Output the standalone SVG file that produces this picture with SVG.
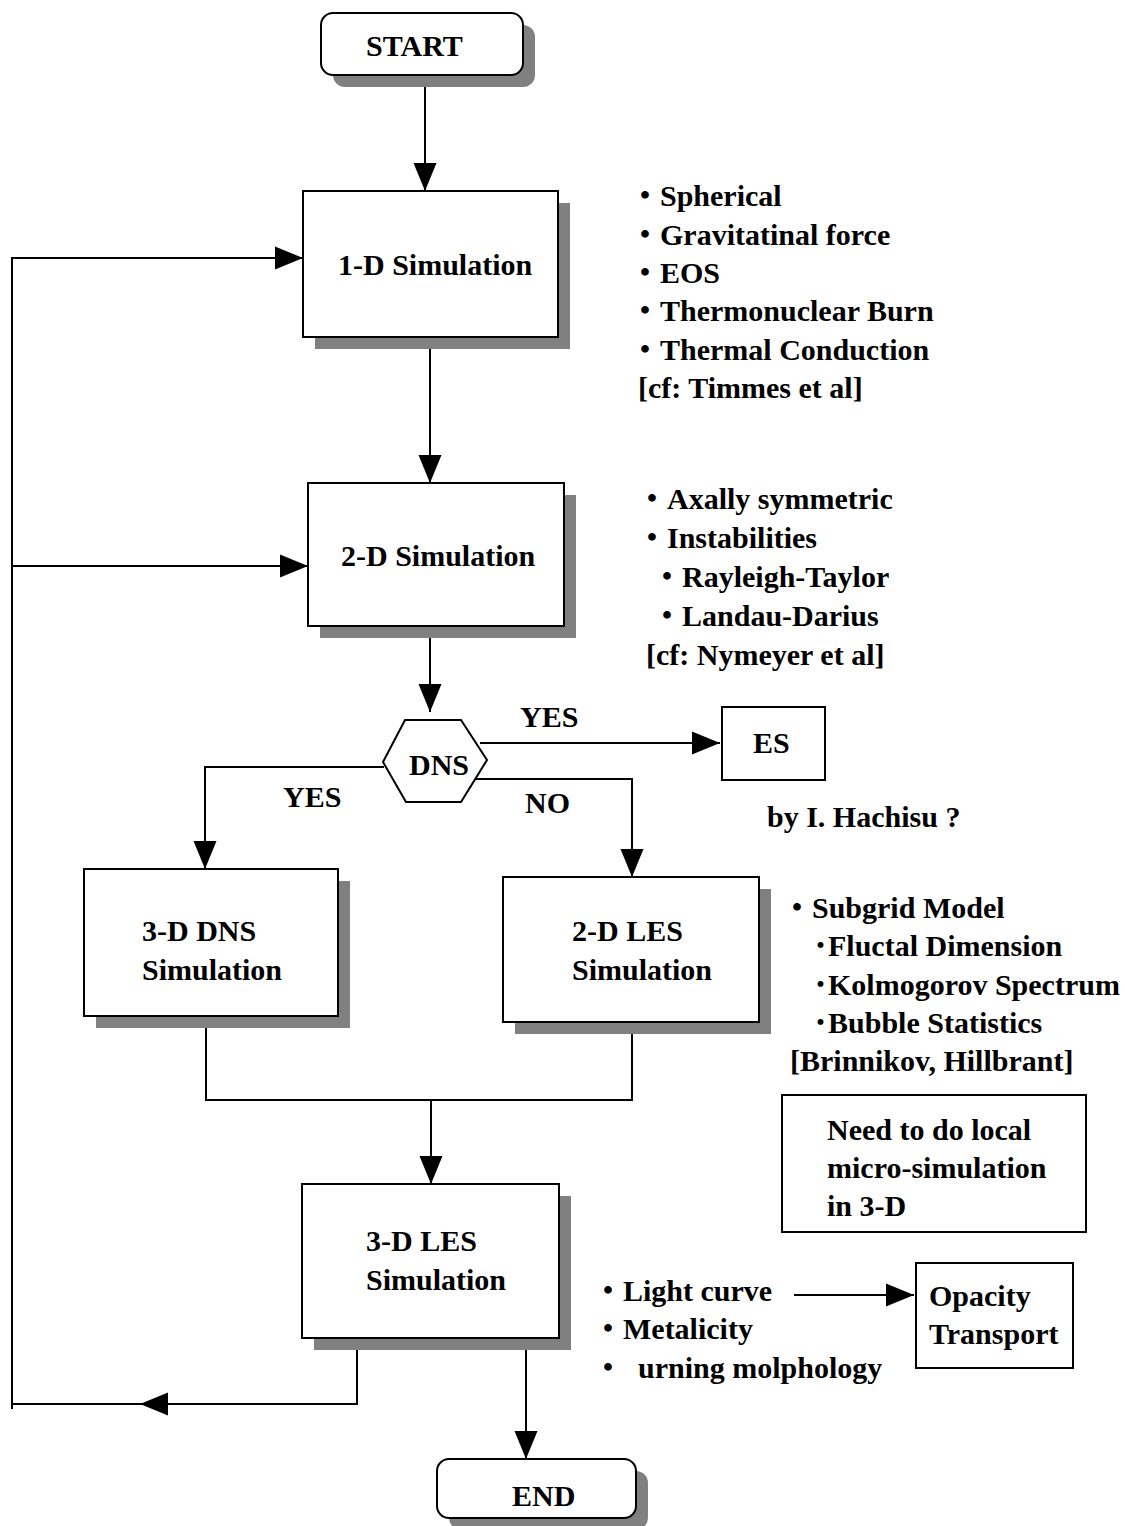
<svg xmlns="http://www.w3.org/2000/svg" width="1125" height="1526" viewBox="0 0 1125 1526">
<defs>
<style>
text{font-family:"Liberation Serif","Noto Sans CJK JP",serif;font-weight:bold;font-size:30px;fill:#000}
.box{fill:#fff;stroke:#000;stroke-width:2}
.sh{fill:#808080}
.ln{fill:none;stroke:#000;stroke-width:2}
</style>
<marker id="ah" markerUnits="userSpaceOnUse" markerWidth="28" markerHeight="24" refX="28" refY="11.5" orient="auto" viewBox="0 0 28 23">
<path d="M0,0 L28,11.5 L0,23 z" fill="#000"/>
</marker>
</defs>
<rect width="1125" height="1526" fill="#fff"/>

<g id="connectors">
<path class="ln" d="M425,87 V191" marker-end="url(#ah)"/>
<path class="ln" d="M357,1350 V1404 H140" marker-end="url(#ah)"/>
<path class="ln" d="M140,1404 H12 V1409 M12,1404 V258 H303" marker-end="url(#ah)"/>
<path class="ln" d="M12,566 H308" marker-end="url(#ah)"/>
<path class="ln" d="M430,349 V483" marker-end="url(#ah)"/>
<path class="ln" d="M430,638 V712" marker-end="url(#ah)"/>
<path class="ln" d="M480,743 H720" marker-end="url(#ah)"/>
<path class="ln" d="M384,767 H205 V869" marker-end="url(#ah)"/>
<path class="ln" d="M475,779 H632 V877" marker-end="url(#ah)"/>
<path class="ln" d="M206,1028 V1100 H632 V1022"/>
<path class="ln" d="M431,1100 V1184" marker-end="url(#ah)"/>
<path class="ln" d="M526,1350 V1459" marker-end="url(#ah)"/>
<path class="ln" d="M794,1295 H914" marker-end="url(#ah)"/>
</g>

<g id="start">
<rect class="sh" x="333" y="25" width="202" height="62" rx="12"/>
<rect class="box" x="321" y="13" width="202" height="62" rx="12"/>
<text x="366" y="56">START</text>
</g>

<g id="sim1d">
<rect class="sh" x="315" y="203" width="255" height="146"/>
<rect class="box" x="303" y="191" width="255" height="146"/>
<text x="338" y="275">1-D Simulation</text>
</g>

<g id="sim2d">
<rect class="sh" x="320" y="495" width="256" height="143"/>
<rect class="box" x="308" y="483" width="256" height="143"/>
<text x="341" y="566">2-D Simulation</text>
</g>

<g id="dns">
<polygon class="box" points="383,762 405,720 461,720 487,760 461,802 406,802"/>
<text x="409" y="775">DNS</text>
</g>

<g id="es">
<rect class="box" x="722" y="707" width="103" height="73"/>
<text x="753" y="753">ES</text>
</g>

<g id="dns3d">
<rect class="sh" x="96" y="881" width="254" height="147"/>
<rect class="box" x="84" y="869" width="254" height="147"/>
<text x="142" y="941">3-D DNS</text>
<text x="142" y="980">Simulation</text>
</g>

<g id="les2d">
<rect class="sh" x="515" y="889" width="256" height="145"/>
<rect class="box" x="503" y="877" width="256" height="145"/>
<text x="572" y="941">2-D LES</text>
<text x="572" y="980">Simulation</text>
</g>

<g id="les3d">
<rect class="sh" x="314" y="1196" width="257" height="154"/>
<rect class="box" x="302" y="1184" width="257" height="154"/>
<text x="366" y="1251">3-D LES</text>
<text x="366" y="1290">Simulation</text>
</g>

<g id="end">
<rect class="sh" x="449" y="1471" width="199" height="59" rx="12"/>
<rect class="box" x="437" y="1459" width="199" height="59" rx="12"/>
<text x="512" y="1506">END</text>
</g>

<g id="need">
<rect class="box" x="782" y="1095" width="304" height="137"/>
<text x="827" y="1140">Need to do local</text>
<text x="827" y="1178">micro-simulation</text>
<text x="827" y="1216">in 3-D</text>
</g>

<g id="opacity">
<rect class="box" x="916" y="1263" width="157" height="105"/>
<text x="929" y="1306">Opacity</text>
<text x="929" y="1344">Transport</text>
</g>

<g id="labels">
<text x="520" y="727">YES</text>
<text x="283" y="807">YES</text>
<text x="525" y="813">NO</text>
<text x="767" y="827">by I. Hachisu ?</text>
</g>

<g id="notes1d">
<text x="630" y="206">・Spherical</text>
<text x="630" y="245">・Gravitatinal force</text>
<text x="630" y="283">・EOS</text>
<text x="630" y="321">・Thermonuclear Burn</text>
<text x="630" y="360">・Thermal Conduction</text>
<text x="638" y="398">[cf: Timmes et al]</text>
</g>

<g id="notes2d">
<text x="637" y="509">・Axally symmetric</text>
<text x="637" y="548">・Instabilities</text>
<text x="652" y="587">・Rayleigh-Taylor</text>
<text x="652" y="626">・Landau-Darius</text>
<text x="646" y="665">[cf: Nymeyer et al]</text>
</g>

<g id="notesles">
<text x="782" y="918">・Subgrid Model</text>
<text x="813" y="956">･Fluctal Dimension</text>
<text x="813" y="995">･Kolmogorov Spectrum</text>
<text x="813" y="1033">･Bubble Statistics</text>
<text x="790" y="1071">[Brinnikov, Hillbrant]</text>
</g>

<g id="notes3d">
<text x="593" y="1301">・Light curve</text>
<text x="593" y="1339">・Metalicity</text>
<text x="593" y="1378" xml:space="preserve">・  urning molphology</text>
</g>
</svg>
